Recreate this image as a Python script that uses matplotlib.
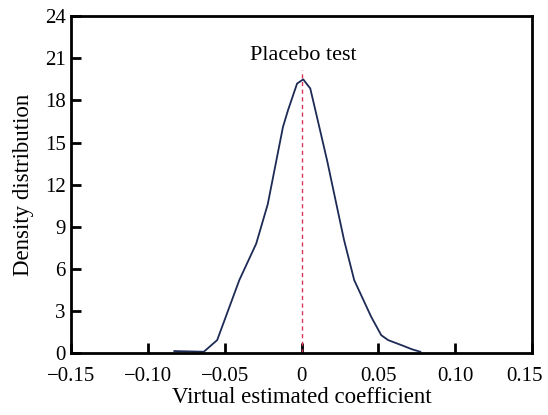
import matplotlib
matplotlib.use('Agg')
import matplotlib.pyplot as plt
import matplotlib.transforms as mtransforms

plt.rcParams['font.family'] = ['Liberation Serif', 'DejaVu Serif']

# Valores (densidade do coeficiente estimado virtual)
coef = [-0.0829, -0.0637, -0.055, -0.0406, -0.0296, -0.0221, -0.0122, -0.0089,
        -0.003, 0.001, 0.0056, 0.010, 0.0166, 0.0232, 0.0276, 0.0342, 0.0452,
        0.0518, 0.0563, 0.065, 0.0717, 0.0772]
dens = [0.15, 0.1, 0.93, 5.2, 7.8, 10.6, 16.1, 17.3,
        19.2, 19.5, 18.85, 16.8, 13.7, 10.3, 8.05, 5.2, 2.6,
        1.28, 0.93, 0.57, 0.28, 0.1]

xticks = [-0.15, -0.10, -0.05, 0, 0.05, 0.10, 0.15]
xticklabels = ['\u22120.15', '\u22120.10', '\u22120.05', '0', '0.05', '0.10', '0.15']
yticks = [0, 3, 6, 9, 12, 15, 18, 21, 24]

fig, ax = plt.subplots(figsize=(5.48, 4.15), dpi=100)
fig.subplots_adjust(left=0.13, right=0.971, top=0.961, bottom=0.149)

ax.plot(coef, dens, color='#1c2a55', lw=1.3)
ax.plot([0, 0], [0, 20.2], color='#d9345a', lw=1.0, ls=(0, (3, 2.5)))
ax.text(0.0013, 20.9, 'Placebo test', ha='center', va='baseline', fontsize=16)

ax.set_xlim(-0.15, 0.15)
ax.set_ylim(0, 24)
ax.set_xticks(xticks)
ax.set_xticklabels(xticklabels)
ax.set_yticks(yticks)
ax.tick_params(direction='in', length=7, width=2, labelsize=15, top=False, right=False)
ax.tick_params(axis='x', pad=10)
ax.tick_params(axis='y', pad=4)
for s in ax.spines.values():
    s.set_linewidth(2)

# último rótulo um pouco para a esquerda, como no original
ult = ax.get_xticklabels()[-1]
ult.set_transform(ult.get_transform() + mtransforms.ScaledTranslation(-8 / 100, 0, fig.dpi_scale_trans))

ax.set_xlabel('Virtual estimated coefficient', fontsize=16.5, labelpad=1)
ax.set_ylabel('Density distribution', fontsize=16.5, labelpad=8)

plt.savefig('out.png', dpi=100)
